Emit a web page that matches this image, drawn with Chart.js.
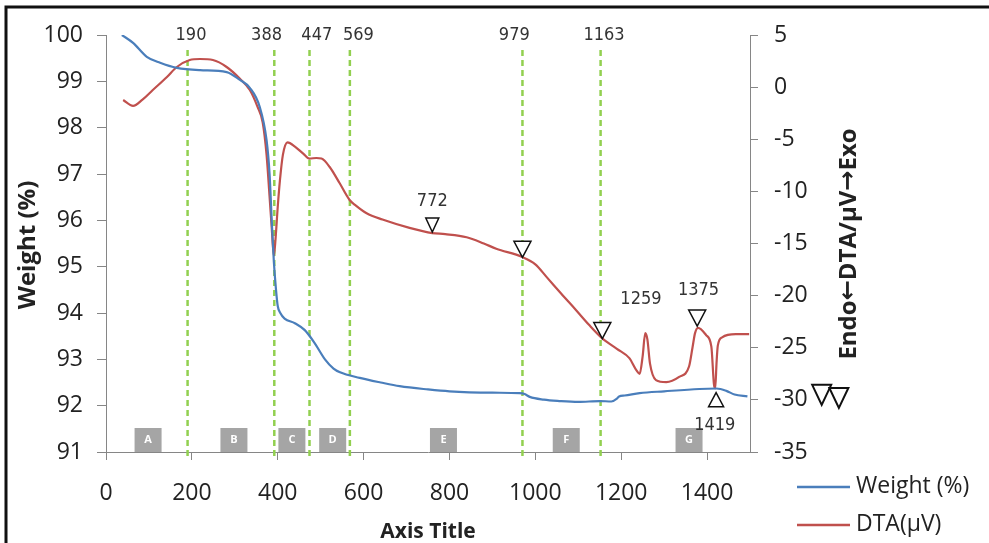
<!DOCTYPE html>
<html>
<head>
<meta charset="utf-8">
<script src="https://cdn.jsdelivr.net/npm/chart.js@4.4.0/dist/chart.umd.min.js"></script>
<style>
  body { margin: 0; background: #fff; }
  #wrap { width: 989px; height: 543px; position: relative; }
</style>
</head>
<body>
<div id="wrap"><canvas id="myChart" width="989" height="543"></canvas></div>
<script>
// 온도 (°C)
var weightT = [37, 63, 95, 126, 165, 219, 281, 312, 335, 358, 374, 381, 386, 391, 396, 400, 406, 416, 440, 463, 486, 510, 530, 545, 591, 640, 684, 750, 800, 900, 963, 975, 987, 1020, 1056, 1100, 1150, 1177, 1190, 1195, 1208, 1243, 1300, 1382, 1422, 1445, 1464, 1494];
var weightVal = [100, 99.83, 99.53, 99.4, 99.29, 99.24, 99.2, 99.03, 98.86, 98.45, 97.73, 97.0, 96.0, 95.1, 94.5, 94.15, 94.0, 93.88, 93.78, 93.63, 93.35, 93.0, 92.8, 92.72, 92.6, 92.5, 92.42, 92.35, 92.31, 92.28, 92.27, 92.25, 92.19, 92.13, 92.1, 92.08, 92.1, 92.09, 92.15, 92.2, 92.22, 92.27, 92.31, 92.36, 92.37, 92.32, 92.24, 92.2];

var dtaT = [40, 63, 85, 109, 142, 165, 195, 219, 249, 281, 312, 335, 353, 365, 374, 381, 386, 391, 395, 400, 405, 412, 423, 440, 460, 474, 490, 502, 521, 544, 567, 580, 607, 644, 707, 760, 790, 840, 880, 909, 970, 1000, 1026, 1060, 1095, 1125, 1156, 1190, 1219, 1236, 1243, 1250, 1256, 1261, 1267, 1281, 1305, 1335, 1358, 1366, 1372, 1379, 1398, 1410, 1416, 1419, 1422, 1425, 1435, 1467, 1498];
var dtaVal = [-1.24, -1.8, -1.2, -0.28, 0.97, 1.93, 2.6, 2.7, 2.6, 1.93, 0.8, -0.28, -1.9, -3.4, -6.5, -10.5, -13.5, -16.2, -14.5, -11.5, -9.0, -6.5, -5.3, -5.7, -6.4, -6.85, -6.8, -6.85, -7.66, -9.2, -10.8, -11.3, -12.1, -12.7, -13.5, -14.0, -14.1, -14.4, -15.0, -15.5, -16.3, -17.0, -18.2, -19.8, -21.4, -22.8, -24.1, -25.1, -26.0, -27.2, -27.5, -25.8, -23.6, -24.2, -26.5, -28.1, -28.3, -27.8, -26.8, -25.0, -23.6, -23.1, -23.8, -24.9, -28.5, -28.9, -26.5, -24.8, -24.0, -23.7, -23.7];

// 구간 경계 (점선)
var boundaryT = [190, 392, 474, 568, 970, 1152];
var boundaryLabels = ['190', '388', '447', '569', '979', '1163'];
var boundaryLabelT = [198, 374, 491, 588, 951, 1160];

// 구간 이름
var stageLabels = ['A', 'B', 'C', 'D', 'E', 'F', 'G'];
var stageT = [98, 298, 433, 528, 786, 1072, 1358];

// 피크 표시 (삼각형)
var markerT = [760, 970, 1156, 1377, 1421, 1667, 1707];
var markerVal = [-13.0, -15.3, -23.1, -21.9, -30.2, -29.2, -29.5];
var markerUp = [false, false, false, false, true, false, false];

var peakText = ['772', '1259', '1375', '1419'];
var peakT = [760, 1246, 1380, 1418];
var peakVal = [-11.0, -20.4, -19.5, -32.4];

var xTicks = [0, 200, 400, 600, 800, 1000, 1200, 1400];

function toPoints(xs, ys) {
  return xs.map(function(x, i) { return { x: x, y: ys[i] }; });
}

var BLUE = '#4A7EBB', RED = '#C0504D', GREEN = '#92D050', AXIS = '#868686', TEXT = '#222';

// 글꼴이 섞인 회전 제목
function drawPieces(ctx, pieces) {
  var total = 0;
  pieces.forEach(function(p) { ctx.font = p[1]; total += ctx.measureText(p[0]).width; });
  var pos = -total / 2;
  ctx.textAlign = 'left';
  pieces.forEach(function(p) {
    ctx.font = p[1];
    ctx.fillText(p[0], pos, 0);
    pos += ctx.measureText(p[0]).width;
  });
}

var decor = {
  id: 'decor',
  beforeDatasetsDraw: function(chart) {
    var ctx = chart.ctx, x = chart.scales.x, yL = chart.scales.yL;
    var area = chart.chartArea;
    ctx.save();
    // 점선
    ctx.strokeStyle = GREEN;
    ctx.lineWidth = 2.5;
    ctx.setLineDash([6, 4]);
    boundaryT.forEach(function(t) {
      var px = x.getPixelForValue(t);
      ctx.beginPath();
      ctx.moveTo(px, 50);
      ctx.lineTo(px, area.bottom + 6);
      ctx.stroke();
    });
    ctx.setLineDash([]);
    // 구간 박스
    ctx.font = 'bold 11px "Open Sans"';
    ctx.textAlign = 'center';
    ctx.textBaseline = 'middle';
    stageT.forEach(function(t, i) {
      var px = x.getPixelForValue(t);
      var bottom = yL.getPixelForValue(91);
      ctx.fillStyle = '#A5A5A5';
      ctx.fillRect(px - 13.5, bottom - 24, 27, 24);
      ctx.fillStyle = '#fff';
      ctx.fillText(stageLabels[i], px, bottom - 12);
    });
    ctx.restore();
  },
  afterDraw: function(chart) {
    var ctx = chart.ctx, x = chart.scales.x, yR = chart.scales.yR;
    ctx.save();
    // 상단 라벨
    ctx.fillStyle = '#333';
    ctx.font = '18px "DejaVu Sans Condensed"';
    ctx.textAlign = 'center';
    ctx.textBaseline = 'middle';
    boundaryLabels.forEach(function(s, i) {
      ctx.fillText(s, x.getPixelForValue(boundaryLabelT[i]), 35);
    });
    peakText.forEach(function(s, i) {
      ctx.fillText(s, x.getPixelForValue(peakT[i]), yR.getPixelForValue(peakVal[i]));
    });
    // 삼각형
    markerT.forEach(function(t, i) {
      var px = x.getPixelForValue(t), py = yR.getPixelForValue(markerVal[i]);
      var big = t > 1500;
      var w = big ? 19 : (i === 0 ? 13 : 17), h = big ? 20 : (i === 0 ? 14 : 16);
      if (markerUp[i]) { w = 15; h = 14; }
      var dir = markerUp[i] ? -1 : 1;
      ctx.beginPath();
      ctx.moveTo(px - w / 2, py - dir * h / 3);
      ctx.lineTo(px + w / 2, py - dir * h / 3);
      ctx.lineTo(px, py + dir * h * 2 / 3);
      ctx.closePath();
      ctx.fillStyle = big ? 'rgba(255,255,255,0)' : '#fff';
      ctx.fill();
      ctx.strokeStyle = '#111';
      ctx.lineWidth = big ? 2 : 1.5;
      ctx.stroke();
    });
    // 축 제목
    ctx.fillStyle = TEXT;
    ctx.font = 'bold 21px "Open Sans"';
    ctx.textBaseline = 'alphabetic';
    ctx.fillText('Axis Title', (chart.chartArea.left + chart.chartArea.right) / 2, 538);
    ctx.textBaseline = 'middle';
    ctx.save();
    ctx.translate(28, 245);
    ctx.rotate(-Math.PI / 2);
    ctx.font = 'bold 24px "Open Sans"';
    ctx.fillText('Weight (%)', 0, 0);
    ctx.restore();
    ctx.save();
    ctx.translate(849, 244);
    ctx.rotate(-Math.PI / 2);
    var tf = 'bold 24px "Open Sans"', af = 'bold 24px "DejaVu Sans"';
    drawPieces(ctx, [['Endo', tf], ['\u2190', af], ['DTA/\u03bcV', tf], ['\u2192', af], ['Exo', tf]]);
    ctx.restore();
    // 범례
    ctx.lineWidth = 2.5;
    ctx.strokeStyle = BLUE;
    ctx.beginPath(); ctx.moveTo(797, 487); ctx.lineTo(850, 487); ctx.stroke();
    ctx.strokeStyle = RED;
    ctx.beginPath(); ctx.moveTo(797, 525); ctx.lineTo(850, 525); ctx.stroke();
    ctx.font = '23px "Open Sans"';
    ctx.textAlign = 'left';
    ctx.fillText('Weight (%)', 856, 486);
    ctx.fillText('DTA(\u03bcV)', 856, 524);
    // 테두리
    ctx.strokeStyle = '#111';
    ctx.lineWidth = 3;
    ctx.beginPath();
    ctx.moveTo(6, 543);
    ctx.lineTo(6, 7);
    ctx.lineTo(989, 7);
    ctx.stroke();
    ctx.restore();
  }
};

var ctx = document.getElementById('myChart').getContext('2d');
var chart = new Chart(ctx, {
  type: 'line',
  data: {
    datasets: [
      {
        label: 'Weight (%)',
        data: toPoints(weightT, weightVal),
        yAxisID: 'yL',
        borderColor: BLUE,
        borderWidth: 2.2,
        pointRadius: 0,
        cubicInterpolationMode: 'monotone'
      },
      {
        label: 'DTA(\u03bcV)',
        data: toPoints(dtaT, dtaVal),
        yAxisID: 'yR',
        borderColor: RED,
        borderWidth: 2.2,
        pointRadius: 0,
        cubicInterpolationMode: 'monotone'
      }
    ]
  },
  options: {
    responsive: false,
    animation: false,
    layout: { padding: { top: 35, left: 0, right: 0, bottom: 0 } },
    plugins: { legend: { display: false }, tooltip: { enabled: false } },
    scales: {
      x: {
        type: 'linear',
        min: 0, max: 1500,
        afterBuildTicks: function(s) { s.ticks = xTicks.map(function(v) { return { value: v }; }); },
        afterFit: function(s) { s.height = 91; },
        grid: { drawOnChartArea: false, tickLength: 8, color: AXIS },
        border: { color: AXIS },
        ticks: {
          font: { family: 'Open Sans', size: 23 }, color: TEXT, padding: 20, maxRotation: 0,
          callback: function(v) { return String(v); }
        }
      },
      yL: {
        position: 'left',
        min: 91, max: 100,
        afterFit: function(s) { s.width = 106; },
        grid: { drawOnChartArea: false, tickLength: 9, color: AXIS },
        border: { color: AXIS },
        ticks: { stepSize: 1, font: { family: 'Open Sans', size: 23 }, color: TEXT, padding: 14 }
      },
      yR: {
        position: 'right',
        min: -35, max: 5,
        afterFit: function(s) { s.width = 239; },
        grid: { drawOnChartArea: false, tickLength: 8, color: AXIS },
        border: { color: AXIS },
        ticks: { stepSize: 5, font: { family: 'Open Sans', size: 23 }, color: TEXT, padding: 16 }
      }
    }
  },
  plugins: [decor]
});
</script>
</body>
</html>
